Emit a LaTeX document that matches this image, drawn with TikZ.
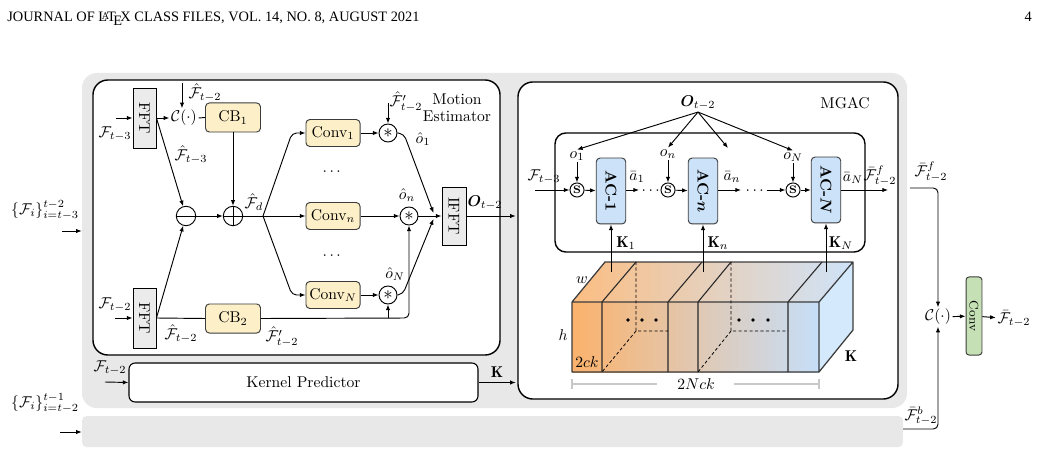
\documentclass[tikz,border=0pt]{standalone}
\usepackage{fontspec}
\usepackage{amsmath,amssymb,bm}
\usepackage{graphicx}
\usetikzlibrary{arrows.meta,calc}
\newfontfamily\headfont{Liberation Serif}
\definecolor{bggray}{RGB}{232,232,232}
\definecolor{fftgray}{RGB}{235,235,235}
\definecolor{cbyellow}{RGB}{253,240,200}
\definecolor{acblue}{RGB}{204,226,248}
\definecolor{convgreen}{RGB}{197,224,180}
\definecolor{cubeor}{RGB}{251,178,108}
\definecolor{cubemid}{RGB}{226,210,198}
\definecolor{cubebl}{RGB}{198,222,248}
\definecolor{cubeside}{RGB}{212,234,252}
\definecolor{dimgray}{RGB}{200,200,200}
\definecolor{edgegray}{RGB}{60,60,60}
\begin{document}
\begin{tikzpicture}[x=0.64pt,y=-0.64pt,
  >={Latex[length=3.6pt,width=2.8pt]},
  conn/.style={line width=0.6pt},
  arr/.style={conn,->},
  elbow/.style={rounded corners=3pt},
  region/.style={fill=bggray,inner sep=0pt},
  bigbox/.style={draw,line width=0.9pt,fill=white,rounded corners=9.5pt,inner sep=0pt},
  fftbox/.style={draw,line width=0.6pt,fill=fftgray,inner sep=0pt,minimum width=14.7pt,minimum height=38.4pt},
  cbbox/.style={draw=edgegray,line width=0.6pt,fill=cbyellow,rounded corners=2.5pt,minimum width=35.2pt,minimum height=18.6pt,inner sep=0pt},
  convbox/.style={cbbox,minimum width=34.6pt,minimum height=17.3pt},
  acbox/.style={draw=edgegray,line width=0.6pt,fill=acblue,rounded corners=2.5pt,minimum width=18.9pt,minimum height=42.2pt,inner sep=0pt},
  opcirc/.style={draw,circle,line width=0.6pt,minimum size=12.4pt,inner sep=0pt,fill=white},
  astcirc/.style={draw,circle,line width=0.6pt,minimum size=11.5pt,inner sep=0pt,fill=white},
  scirc/.style={draw,circle,line width=0.6pt,minimum size=9pt,inner sep=0pt,fill=white,font=\scriptsize\bfseries},
  lbl/.style={inner sep=1pt},
]
\useasboundingbox (0,0) rectangle (1041,476);
% header
\node[anchor=base west,inner sep=0pt,font=\headfont\fontsize{9.2}{11}\selectfont] (hdr) at (7,22) {JOURNAL OF \LaTeX\ CLASS FILES, VOL. 14, NO. 8, AUGUST 2021};
\node[anchor=base east,inner sep=0pt,font=\headfont\fontsize{9.2}{11}\selectfont] (pg) at (1032,22) {4};

% regions
\node[region,rounded corners=9.5pt,minimum width=528pt,minimum height=214.4pt] (grayreg) at (494.5,240.5) {};
\node[region,rounded corners=3pt,minimum width=525.4pt,minimum height=19.84pt] (bar) at (492.5,431.5) {};
\node[bigbox,minimum width=260.5pt,minimum height=176pt] (me) at (296.5,217.5) {};
\node[bigbox,minimum width=243.2pt,minimum height=202.9pt] (mgac) at (708,240.5) {};
\node[bigbox,rounded corners=7pt,minimum width=198.4pt,minimum height=76.2pt] (inner) at (710,192.5) {};
\node[bigbox,line width=0.7pt,rounded corners=4pt,minimum width=223.4pt,minimum height=25pt] (kp) at (303.5,382.5) {Kernel Predictor};

% inputs
\node[lbl] (lin1) at (45,210) {$\{\mathcal{F}_i\}_{i=t-3}^{t-2}$};
\coordinate (inA) at (62,231);
\draw[arr] (inA) -- (inA -| grayreg.west);
\node[lbl] (lin2) at (45,403) {$\{\mathcal{F}_i\}_{i=t-2}^{t-1}$};
\coordinate (inB) at (60,432);
\draw[arr] (inB) -- (inB -| bar.west);

% motion estimator
\node[fftbox] (fft1) at (144.5,118) {\rotatebox{-90}{FFT}};
\node[fftbox] (fft2) at (144.5,318) {\rotatebox{-90}{FFT}};
\coordinate (in1) at (116,118);
\draw[arr] (in1) -- (fft1.west);
\node[lbl] (lf3) at (115,134) {$\mathcal{F}_{t-3}$};
\coordinate (in2) at (115,318);
\draw[arr] (in2) -- (fft2.west);
\node[lbl] (lf2) at (115,305) {$\mathcal{F}_{t-2}$};

\node[inner sep=1pt] (c1) at (184,118) {$\mathcal{C}(\cdot)$};
\draw[arr] (fft1.east) -- (c1.west);
\coordinate (fh2top) at (182,83);
\draw[arr] (fh2top) -- (fh2top |- c1.north);
\node[lbl] (lfh2) at (205,93) {$\hat{\mathcal{F}}_{t-2}$};
\node[cbbox] (cb1) at (233,117.5) {CB$_1$};
\draw[conn] (c1.east) -- (cb1.west);
\node[cbbox] (cb2) at (233,318.5) {CB$_2$};

\node[opcirc,path picture={\draw[line width=0.6pt] (path picture bounding box.west) -- (path picture bounding box.east);}] (minus) at (186,216) {};
\node[opcirc,path picture={\draw[line width=0.6pt] (path picture bounding box.west) -- (path picture bounding box.east) (path picture bounding box.north) -- (path picture bounding box.south);}] (plus) at (233,216) {};
\draw[arr] (fft1.east) -- (minus);
\node[lbl] (lfh3) at (191,155) {$\hat{\mathcal{F}}_{t-3}$};
\draw[arr] (fft2.east) -- (minus);
\draw[conn] (fft2.east) -- (cb2.west);
\node[lbl] (lfh2b) at (181,334) {$\hat{\mathcal{F}}_{t-2}$};
\draw[arr] (cb1) -- (plus);
\draw[arr] (minus) -- (plus);
\coordinate (br) at (263,216);
\draw[conn] (plus) -- (br);
\node[lbl] (lfd) at (254,202) {$\hat{\mathcal{F}}_d$};

\node[convbox] (conv1) at (333,133) {Conv$_1$};
\node[convbox] (convn) at (333,216) {Conv$_n$};
\node[convbox] (convN) at (333,295) {Conv$_N$};
\draw[arr,elbow] (br) -- (292,133) -- (conv1.west);
\draw[arr] (br) -- (convn.west);
\draw[arr,elbow] (br) -- (292,295) -- (convN.west);
\node (d1) at (333,172) {$\cdots$};
\node (d2) at (333,256) {$\cdots$};

\node[astcirc] (ast1) at (388,133) {\large$\ast$};
\node[astcirc] (astn) at (409,216) {\large$\ast$};
\node[astcirc] (astN) at (388,295) {\large$\ast$};
\draw[arr] (conv1) -- (ast1);
\draw[arr] (convn) -- (astn);
\draw[arr] (convN) -- (astN);
\coordinate (fp2top) at (388,103);
\draw[arr] (fp2top) -- (ast1.north);
\node[lbl] (lfp1) at (406,102) {$\hat{\mathcal{F}}'_{t-2}$};
\node[align=center,inner sep=0pt] (melbl) at (457,108) {Motion\\[-1pt]Estimator};
\node[lbl] (lo1) at (423,139) {$\hat{o}_1$};
\node[lbl] (lon) at (407,195) {$\hat{o}_n$};
\node[lbl] (loN) at (395,274) {$\hat{o}_N$};

\node[fftbox,minimum width=15.4pt,minimum height=37.1pt] (ifft) at (454,216) {\rotatebox{-90}{IFFT}};
\draw[arr,elbow] (ast1.east) -- (404,134) -- ($(ifft.west)+(-8,-3)$);
\draw[arr] (astn) -- (ifft.west);
\draw[arr,elbow] (astN.east) -- (403,294) -- ($(ifft.west)+(-8,3)$);
\coordinate (fpc) at (409,318);
\draw[arr,elbow] (cb2.east) -- (fpc) -- (astn.south);
\draw[arr] (astN.south |- fpc) -- (astN.south);
\node[lbl] (lfp2) at (282,337) {$\hat{\mathcal{F}}'_{t-2}$};

\draw[arr,shorten >=1pt] (ifft.east) -- (ifft.east -| mgac.west);
\node[lbl] (lO) at (485,203) {$\bm{O}_{t-2}$};

% kernel predictor
\coordinate (kpin) at (105,382);
\draw[arr] (kpin) -- (kp.west);
\node[lbl] (lkpf) at (110,368) {$\mathcal{F}_{t-2}$};
\draw[arr,shorten >=1pt] (kp.east) -- (kp.east -| mgac.west);
\node[lbl] (lK) at (497,372) {$\mathbf{K}$};

% MGAC
\node (mglbl) at (845,103) {MGAC};
\node[lbl] (lOm) at (698,103) {$\bm{O}_{t-2}$};
\node[lbl] (o1) at (577,156) {$o_1$};
\node[lbl] (on) at (668,154) {$o_n$};
\node[lbl] (oN) at (793,157) {$o_N$};
\coordinate (omid) at (728,148);
\draw[arr] (lOm.south) -- (o1.north);
\draw[arr] (lOm.south) -- (on.north);
\draw[arr] (lOm.south) -- (omid);
\draw[arr] (lOm.south) -- (oN.north);

\node[scirc] (s1) at (577,190) {S};
\node[scirc] (sn) at (668,190) {S};
\node[scirc] (sN) at (793,190) {S};
\node[acbox] (ac1) at (611,191) {\rotatebox{-90}{\textbf{AC-1}}};
\node[acbox] (acn) at (703,191) {\rotatebox{-90}{\textbf{AC-}$\bm{n}$}};
\node[acbox] (acN) at (826,190) {\rotatebox{-90}{\textbf{AC-}$\bm{N}$}};

\coordinate (f3in) at (535,190);
\draw[arr] (f3in) -- (s1.west);
\node[lbl] (lf3m) at (544,177) {$\mathcal{F}_{t-3}$};
\draw[arr] (o1.south -| s1) -- (s1.north);
\draw[arr] (on.south -| sn) -- (sn.north);
\draw[arr] (oN.south -| sN) -- (sN.north);
\draw[arr] (s1) -- (ac1);
\draw[arr] (sn) -- (acn);
\draw[arr] (sN) -- (acN);
\coordinate (a1e) at (639,190);
\draw[arr] (ac1.east |- a1e) -- (a1e);
\node[lbl] (la1) at (637,177) {$\bar{a}_1$};
\node[inner sep=0pt] (dots1) at (652,191) {$\cdots$};
\coordinate (ane) at (741,190);
\draw[arr] (acn.east |- ane) -- (ane);
\node[lbl] (lan) at (732,177) {$\bar{a}_n$};
\node[inner sep=0pt] (dots2) at (756,191) {$\cdots$};
\draw[arr] (dots2.east |- sN) -- (sN.west);
\coordinate (aNe) at (888,190);
\draw[arr] (acN.east |- aNe) -- (aNe);
\node[lbl] (laN) at (853,178) {$\bar{a}_N$};
\node[lbl] (lffi) at (880,176) {$\bar{\mathcal{F}}^f_{t-2}$};

% cube
\shade[left color=cubeor, middle color=cubemid, right color=cubebl] (572,302) rectangle (819,372);
\shade[left color=cubeor!85!white, middle color=cubemid!85!white, right color=cubebl!85!white] (572,302) -- (605,262) -- (853,262) -- (819,302) -- cycle;
\fill[cubeside] (819,302) -- (853,262) -- (853,330) -- (819,372) -- cycle;
\draw[edgegray,line width=0.8pt,line join=round] (572,302) rectangle (819,372) (572,302) -- (605,262) -- (853,262) -- (819,302) (853,262) -- (853,330) -- (819,372);
\draw[edgegray!70!black,line width=0.7pt] (602,302) -- (602,372) (602,302) -- (636,262) (668,302) -- (668,372) (668,302) -- (702,262) (698,302) -- (698,372) (698,302) -- (731,262) (788,302) -- (788,372) (788,302) -- (822,262);
\draw[black,line width=0.5pt,dash pattern=on 2pt off 1.5pt] (636,262) -- (636,331) -- (668,331) (636,331) -- (602,372) (731,262) -- (731,331) -- (788,331) (731,331) -- (698,372);
\fill (628,320) circle (1.8) (642,320) circle (1.8) (656,320) circle (1.8);
\fill (739,320) circle (1.8) (753,320) circle (1.8) (768,320) circle (1.8);
\draw[dimgray,line width=0.8pt] (572,379) -- (572,389) (572,384) -- (657,384) (734,384) -- (819,384) (819,379) -- (819,389);
\node[lbl] (lw) at (582,280) {$w$};
\node[lbl] (lh) at (563,335) {$h$};
\node[lbl] (l2ck) at (587,362) {$2ck$};
\node[lbl] (lKc) at (851,356) {$\mathbf{K}$};
\node[lbl] (l2nck) at (696,384) {$2Nck$};

\coordinate (k1) at (611,272);
\coordinate (kn) at (703,272);
\coordinate (kN) at (826,272);
\draw[arr] (k1) -- (ac1.south);
\draw[arr] (kn) -- (acn.south);
\draw[arr] (kN) -- (acN.south);
\node[lbl] (lk1) at (626,243) {$\mathbf{K}_1$};
\node[lbl] (lkn) at (718,243) {$\mathbf{K}_n$};
\node[lbl] (lkN) at (841,243) {$\mathbf{K}_N$};

% output stage
\node[inner sep=1pt] (c2) at (938,317) {$\mathcal{C}(\cdot)$};
\coordinate (fout) at (910,188);
\draw[arr,elbow] (fout) -- (fout -| c2) -- (c2.north);
\node[lbl] (lff) at (931,172) {$\bar{\mathcal{F}}^f_{t-2}$};
\coordinate (bout) at (903,429);
\draw[arr,elbow] (bout) -- (bout -| c2) -- (c2.south);
\node[lbl] (lfb) at (921,416) {$\bar{\mathcal{F}}^b_{t-2}$};
\node[draw=edgegray,line width=0.6pt,fill=convgreen,rounded corners=2pt,minimum width=10.2pt,minimum height=50pt,inner sep=0pt] (convF) at (974,316) {\rotatebox{-90}{\footnotesize Conv}};
\draw[arr] (c2) -- (convF);
\node[lbl] (lout) at (1014,319) {$\bar{\mathcal{F}}_{t-2}$};
\draw[arr] (convF) -- (lout);
\end{tikzpicture}
\end{document}
